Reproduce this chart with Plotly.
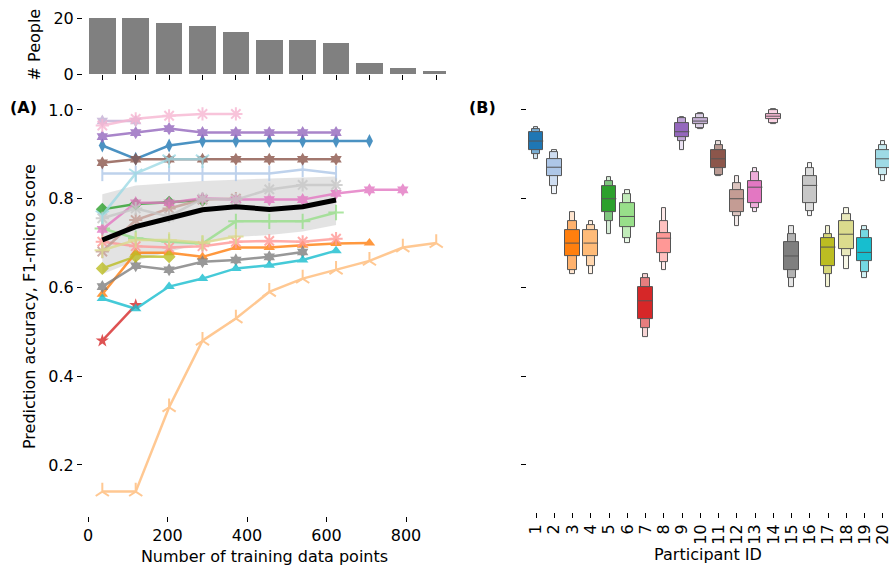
import plotly.graph_objects as go

# ---------------- data ----------------
train_sizes = [36, 120, 204, 288, 372, 456, 540, 624, 708, 792, 876]
people_counts = [20, 20, 18, 17, 15, 12, 12, 11, 4, 2, 1]

colors = ["#1f77b4", "#aec7e8", "#ff7f0e", "#ffbb78", "#2ca02c", "#98df8a",
          "#d62728", "#ff9896", "#9467bd", "#c5b0d5", "#8c564b", "#c49c94",
          "#e377c2", "#f7b6d2", "#7f7f7f", "#c7c7c7", "#bcbd22", "#dbdb8d",
          "#17becf", "#9edae5"]

p01 = [0.92, 0.89, 0.92, 0.93, 0.93, 0.93, 0.93, 0.93, 0.93]
p02 = [0.857, 0.857, 0.857, 0.857, 0.857, 0.857, 0.866, 0.857]
p03 = [0.585, 0.678, 0.678, 0.669, 0.69, 0.69, 0.695, 0.699, 0.70]
p04 = [0.14, 0.14, 0.33, 0.48, 0.53, 0.59, 0.62, 0.64, 0.66, 0.69, 0.70]
p05 = [0.776, 0.788, 0.792, 0.797]
p06 = [0.733, 0.711, 0.703, 0.699, 0.749, 0.749, 0.749, 0.769]
p07 = [0.48, 0.56]
p08 = [0.703, 0.693, 0.69, 0.693, 0.703, 0.705, 0.703, 0.71]
p09 = [0.94, 0.949, 0.958, 0.949, 0.949, 0.949, 0.949, 0.949]
p10 = [0.975, 0.975]
p11 = [0.881, 0.889, 0.889, 0.889, 0.889, 0.889, 0.889, 0.889]
p12 = [0.681, 0.752, 0.778, 0.798, 0.80]
p13 = [0.731, 0.791, 0.791, 0.801, 0.798, 0.798, 0.798, 0.812, 0.82, 0.82]
p14 = [0.965, 0.98, 0.987, 0.991, 0.991]
p15 = [0.602, 0.649, 0.64, 0.658, 0.662, 0.669, 0.68]
p16 = [0.756, 0.778, 0.76, 0.80, 0.798, 0.821, 0.831, 0.831]
p17 = [0.643, 0.67, 0.669]
p18 = [0.684, 0.707, 0.707, 0.701, 0.715]
p19 = [0.575, 0.552, 0.602, 0.62, 0.643, 0.65, 0.662, 0.683]
p20 = [0.763, 0.857, 0.889, 0.889]
series = [p01, p02, p03, p04, p05, p06, p07, p08, p09, p10,
          p11, p12, p13, p14, p15, p16, p17, p18, p19, p20]
symbols = ["diamond-tall", "line-ns-open", "triangle-up", "y-up-open", "diamond",
           "cross-thin-open", "star", "asterisk-open", "hexagram", "hexagram",
           "hexagram", "asterisk-open", "hexagram", "asterisk-open", "hexagram",
           "asterisk-open", "diamond", "cross-thin-open", "triangle-up", "y-down-open"]

mean_acc = [0.707, 0.737, 0.756, 0.775, 0.782, 0.776, 0.782, 0.797]
band_upper = [0.81, 0.83, 0.835, 0.84, 0.843, 0.845, 0.848, 0.85]
band_lower = [0.63, 0.66, 0.68, 0.70, 0.714, 0.718, 0.726, 0.741]

participant_ids = list(range(1, 21))
lv3_hi = [0.962, 0.910, 0.770, 0.750, 0.848, 0.820, 0.630, 0.778, 0.983, 0.992,
          0.929, 0.850, 0.870, 1.002, 0.738, 0.880, 0.739, 0.780, 0.739, 0.929]
lv2_hi = [0.958, 0.905, 0.750, 0.740, 0.840, 0.810, 0.620, 0.750, 0.981, 0.990,
          0.920, 0.835, 0.860, 1.000, 0.720, 0.869, 0.720, 0.766, 0.730, 0.920]
q3 = [0.950, 0.890, 0.730, 0.730, 0.829, 0.790, 0.600, 0.722, 0.970, 0.981,
      0.910, 0.820, 0.840, 0.991, 0.702, 0.850, 0.711, 0.750, 0.711, 0.910]
median = [0.930, 0.871, 0.700, 0.700, 0.800, 0.760, 0.570, 0.711, 0.951, 0.975,
          0.890, 0.800, 0.826, 0.986, 0.671, 0.830, 0.691, 0.720, 0.679, 0.890]
q1 = [0.910, 0.850, 0.671, 0.671, 0.770, 0.737, 0.528, 0.678, 0.938, 0.968,
      0.870, 0.769, 0.790, 0.980, 0.640, 0.790, 0.649, 0.687, 0.660, 0.870]
lv2_lo = [0.900, 0.829, 0.639, 0.649, 0.750, 0.711, 0.509, 0.658, 0.929, 0.959,
          0.853, 0.760, 0.780, 0.970, 0.620, 0.773, 0.630, 0.670, 0.634, 0.853]
lv3_lo = [0.890, 0.810, 0.630, 0.630, 0.721, 0.701, 0.489, 0.639, 0.909, 0.957,
          0.850, 0.739, 0.769, 0.968, 0.600, 0.761, 0.600, 0.641, 0.620, 0.840]

# ---------------- helpers ----------------
def blend(hexc, f):
    h = hexc.lstrip("#")
    r, g, b = int(h[0:2], 16), int(h[2:4], 16), int(h[4:6], 16)
    r = round(r * f + 255 * (1 - f)); g = round(g * f + 255 * (1 - f)); b = round(b * f + 255 * (1 - f))
    return f"rgb({r},{g},{b})"

FONT = "DejaVu Sans"
fig = go.Figure()

# histogram (# People)
fig.add_trace(go.Bar(x=train_sizes, y=people_counts, width=67,
                     marker=dict(color="#808080", line=dict(width=0)),
                     xaxis="x", yaxis="y", showlegend=False))

# band
n = len(mean_acc)
fig.add_trace(go.Scatter(x=train_sizes[:n] + train_sizes[:n][::-1],
                         y=band_upper + band_lower[::-1],
                         fill="toself", fillcolor="rgba(200,200,200,0.5)",
                         line=dict(width=0), mode="lines",
                         xaxis="x2", yaxis="y2", showlegend=False, hoverinfo="skip"))

for vals, col, sym in zip(series, colors, symbols):
    xs = train_sizes[:len(vals)]
    open_sym = sym.endswith("-open")
    fig.add_trace(go.Scatter(
        x=xs, y=vals, mode="lines+markers",
        line=dict(color=col, width=2.5),
        marker=dict(symbol=sym, size=11 if open_sym else 10, color=col,
                    line=dict(color=col, width=2 if open_sym else 0)),
        opacity=0.8, xaxis="x2", yaxis="y2", showlegend=False))

fig.add_trace(go.Scatter(x=train_sizes[:n], y=mean_acc, mode="lines",
                         line=dict(color="black", width=5),
                         xaxis="x2", yaxis="y2", showlegend=False))

# boxen plots
levels = [
    (lv3_lo, lv3_hi, 0.25, 0.2),
    (lv2_lo, lv2_hi, 0.45, 0.6),
    (q1, q3, 0.8, 1.0),
]
for lo, hi, w, f in levels:
    fig.add_trace(go.Bar(
        x=participant_ids, y=[h - l for h, l in zip(hi, lo)], base=lo, width=w,
        marker=dict(color=[blend(c, f) for c in colors],
                    line=dict(color="#555555", width=1)),
        xaxis="x3", yaxis="y3", showlegend=False))

mx, my = [], []
for pid, m in zip(participant_ids, median):
    mx += [pid - 0.4, pid + 0.4, None]
    my += [m, m, None]
fig.add_trace(go.Scatter(x=mx, y=my, mode="lines", line=dict(color="#555555", width=1),
                         xaxis="x3", yaxis="y3", showlegend=False))

# ---------------- layout ----------------
W, H = 892, 570
def py(p):
    return (H - p) / H

xr = [-12.6, 900.6]
yr = [0.094, 1.02]
tickfont = dict(family=FONT, size=16, color="black")
titlefont = dict(family=FONT, size=16, color="black")
common = dict(showgrid=False, zeroline=False, showline=False, ticks="outside",
              ticklen=5, tickwidth=1, tickcolor="black", tickfont=tickfont,
              automargin=False, ticklabeloverflow="allow")

fig.update_layout(
    template="none",
    width=W, height=H, autosize=False,
    margin=dict(l=0, r=0, t=0, b=0, pad=0),
    paper_bgcolor="white", plot_bgcolor="white",
    barmode="overlay", bargap=0,
    font=dict(family=FONT, size=16, color="black"),
    xaxis=dict(domain=[83 / W, 446 / W], range=xr, anchor="y",
               tickvals=train_sizes, showticklabels=False, **common),
    yaxis=dict(domain=[py(74), py(15.2)], range=[0, 21], anchor="x",
               tickvals=[0, 20],
               title=dict(text="# People", font=titlefont, standoff=8), **common),
    xaxis2=dict(domain=[83 / W, 446 / W], range=xr, anchor="free", position=py(516),
                tickvals=[0, 200, 400, 600, 800],
                title=dict(text="Number of training data points", font=titlefont, standoff=6),
                **common),
    yaxis2=dict(domain=[py(512), py(101.1)], range=yr, anchor="x2",
                tickvals=[0.2, 0.4, 0.6, 0.8, 1.0], tickformat=".1f",
                title=dict(text="Prediction accuracy, F1-micro score", font=titlefont, standoff=8),
                **common),
    xaxis3=dict(domain=[527 / W, 889 / W], range=[0.507, 20.33], anchor="y3",
                tickvals=participant_ids, ticktext=[str(i) for i in participant_ids],
                tickangle=-90,
                title=dict(text="Participant ID", font=titlefont, standoff=4), **common),
    yaxis3=dict(domain=[py(512), py(101.1)], range=yr, anchor="x3",
                tickvals=[0.2, 0.4, 0.6, 0.8, 1.0], showticklabels=False, **common),
    annotations=[
        dict(text="<b>(A)</b>", x=8 / W, y=py(107), xref="paper", yref="paper",
             xanchor="left", yanchor="middle", showarrow=False, font=dict(family=FONT, size=16)),
        dict(text="<b>(B)</b>", x=467 / W, y=py(107), xref="paper", yref="paper",
             xanchor="left", yanchor="middle", showarrow=False, font=dict(family=FONT, size=16)),
    ],
)

fig.write_html("out.html", config={"displayModeBar": False},
               post_script="document.body.style.margin='0px';document.body.style.overflow='hidden';")
